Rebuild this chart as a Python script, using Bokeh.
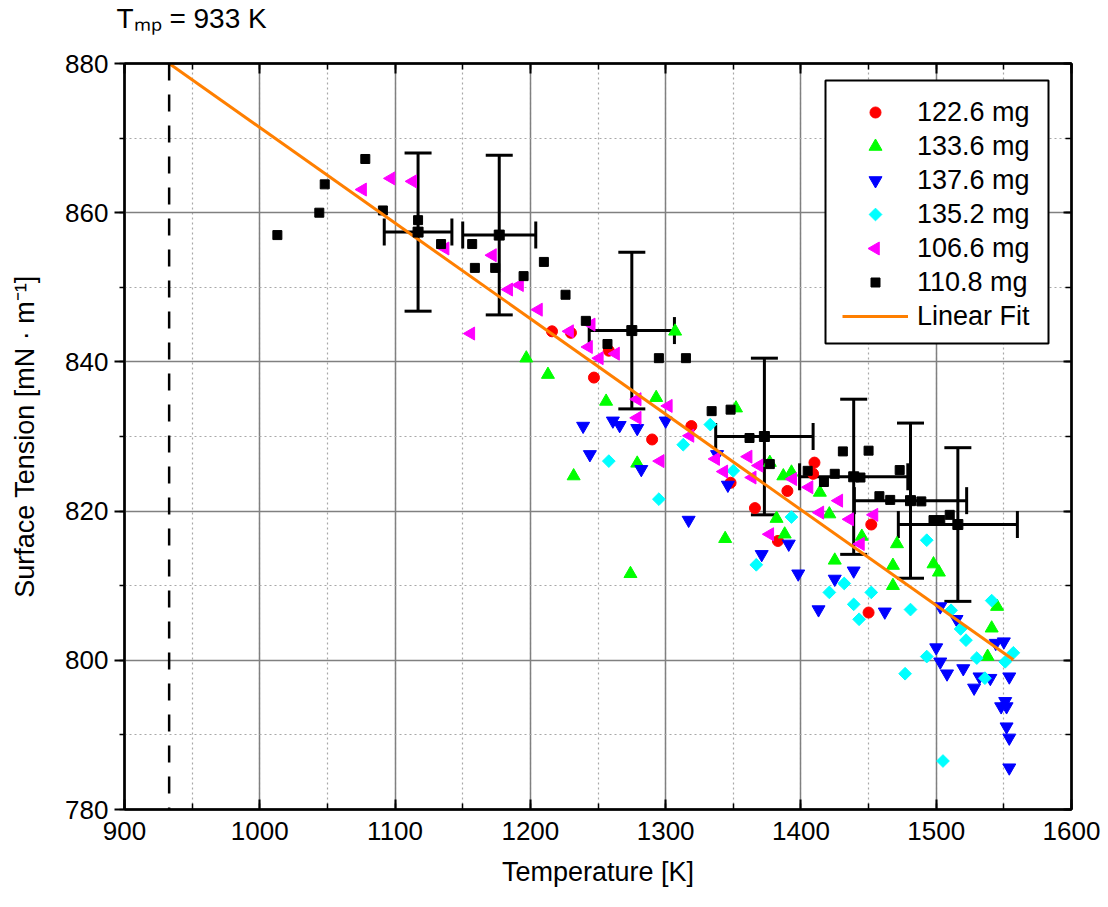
import math
from bokeh.plotting import figure
from bokeh.models import (ColumnDataSource, Whisker, TeeHead, Span, LinearAxis,
                          SingleIntervalTicker, Legend, LegendItem, Range1d)
from bokeh.embed import file_html
from bokeh.resources import INLINE

FONT = "Liberation Sans"

# ---------------- data ----------------
red_T = [1216, 1230, 1258, 1247, 1290, 1319, 1348, 1366, 1390, 1383, 1410, 1409, 1452, 1450]
red_sigma = [844.1, 843.9, 841.5, 837.9, 829.6, 831.4, 823.8, 820.4, 822.7, 816.0, 826.5, 825.0, 818.2, 806.4]

green_T = [1307, 1197, 1213, 1256, 1293, 1279, 1232, 1274, 1352, 1344, 1377, 1382, 1388, 1393, 1387,
           1414, 1421, 1425, 1445, 1471, 1468, 1498, 1502, 1468, 1545, 1541, 1538]
green_sigma = [844.1, 840.5, 838.3, 834.7, 835.2, 826.4, 824.7, 811.6, 833.8, 816.3, 826.5, 819.0, 816.9, 825.2, 824.7,
               822.5, 819.6, 813.4, 816.6, 815.6, 812.7, 812.9, 811.8, 810.0, 807.2, 804.3, 800.5]

blue_T = [1239, 1261, 1266, 1279, 1300, 1244, 1282, 1317, 1338, 1346, 1371, 1391, 1398, 1425, 1439,
          1413, 1462, 1503, 1515, 1544, 1550, 1500, 1503, 1508, 1520, 1532, 1540, 1528, 1554, 1548,
          1552, 1551, 1552, 1554, 1554]
blue_sigma = [831.4, 832.1, 831.5, 831.1, 832.1, 827.6, 825.6, 818.8, 827.6, 823.5, 814.2, 815.6, 811.6, 810.9, 812.0,
              806.8, 806.5, 807.2, 805.5, 802.3, 802.5, 801.7, 799.8, 798.2, 798.9, 797.8, 797.6, 796.3, 797.8, 793.8,
              793.8, 794.5, 791.1, 789.6, 785.6]

cyan_T = [1333, 1313, 1258, 1295, 1350, 1393, 1367, 1432, 1421, 1452, 1439, 1443, 1481, 1493, 1541,
          1511, 1518, 1522, 1557, 1551, 1530, 1493, 1477, 1536, 1505]
cyan_sigma = [831.6, 828.9, 826.7, 821.6, 825.4, 819.2, 812.8, 810.3, 809.1, 809.1, 807.5, 805.5, 806.8, 816.1, 808.0,
              806.7, 804.2, 802.7, 801.0, 799.8, 800.3, 800.5, 798.2, 797.6, 786.5]

magenta_T = [1076, 1097, 1113, 1137, 1172, 1192, 1184, 1206, 1156, 1229, 1245, 1243, 1251, 1263, 1279, 1302,
             1279, 1318, 1337, 1296, 1361, 1369, 1343, 1364, 1377, 1394, 1406, 1428, 1414, 1436, 1454, 1444]
magenta_sigma = [863.1, 864.6, 864.2, 855.2, 854.3, 850.3, 849.7, 847.0, 843.8, 844.1, 845.0, 842.0, 840.5, 841.1, 835.0, 834.1,
                 832.5, 830.1, 827.0, 826.7, 827.3, 826.1, 825.3, 824.5, 816.9, 824.3, 823.2, 821.4, 819.8, 818.9, 819.5, 815.6]

black_T = [1013, 1044, 1048, 1078, 1091, 1117, 1134, 1157, 1159, 1174, 1195, 1210, 1226, 1241, 1257, 1295,
           1315, 1334, 1348, 1362, 1377, 1405, 1417, 1425, 1431, 1444, 1450, 1473, 1458, 1466, 1489, 1498, 1503, 1510]
black_sigma = [857.0, 860.0, 863.8, 867.2, 860.3, 859.0, 855.8, 855.8, 852.6, 852.6, 851.5, 853.4, 849.0, 845.5, 842.4, 840.5,
               840.5, 833.4, 833.6, 829.8, 826.3, 825.4, 823.9, 825.0, 828.0, 824.5, 828.1, 825.5, 822.0, 821.5, 821.3, 818.8, 818.8, 819.5]

# averaged values with error bars
eb_T = [1117, 1177, 1275, 1373, 1439, 1481, 1516]
eb_sigma = [857.4, 857.0, 844.2, 830.0, 824.6, 821.4, 818.2]
eb_T_err = [25, 27, 31.5, 36, 40, 41.5, 44]
eb_sigma_err = [10.6, 10.7, 10.5, 10.5, 10.4, 10.4, 10.3]

# linear fit  sigma = intercept + slope * T
fit_slope = -0.1281
fit_intercept = 999.52
fit_T_range = [933, 1557]

T_mp = 933

series_labels = ["122.6 mg", "133.6 mg", "137.6 mg", "135.2 mg", "106.6 mg", "110.8 mg"]
fit_label = "Linear Fit"

x_ticks_interval = 100
y_ticks_interval = 20

# ---------------- layout constants (pixels) ----------------
W, H = 1108, 907
FRAME_LEFT, FRAME_RIGHT = 124, 1071
FRAME_TOP, FRAME_BOTTOM = 63, 809
X0, X1, Y0, Y1 = 900, 1600, 780, 880
TITLE_LIFT = 30

def px_to_x(px):
    return X0 + (px - FRAME_LEFT) * (X1 - X0) / (FRAME_RIGHT - FRAME_LEFT)

def py_to_y(py):
    return Y1 - (py - FRAME_TOP) * (Y1 - Y0) / (FRAME_BOTTOM - FRAME_TOP)

# ---------------- figure ----------------
p = figure(width=W, height=H, x_range=Range1d(X0, X1), y_range=Range1d(Y0, Y1),
           output_backend="svg", toolbar_location=None,
           min_border_left=FRAME_LEFT, min_border_right=W - FRAME_RIGHT,
           min_border_top=FRAME_TOP, min_border_bottom=H - FRAME_BOTTOM,
           x_axis_label="Temperature [K]", y_axis_label="Surface Tension [mN \u00b7 m\u207b\u00b9]")
p.background_fill_color = "white"
p.border_fill_color = "white"
p.outline_line_color = "black"
p.outline_line_width = 2

# melting point annotation as title
p.title.text = "T\u2098\u209a = %d K" % T_mp
p.title.text_font = FONT
p.title.text_font_size = "28px"
p.title.text_font_style = "normal"
p.title.text_color = "black"
p.title.align = "left"
p.title.offset = -8
p.title.standoff = 0

xt = SingleIntervalTicker(interval=x_ticks_interval, num_minor_ticks=2)
yt = SingleIntervalTicker(interval=y_ticks_interval, num_minor_ticks=2)
p.xaxis.ticker = xt
p.yaxis.ticker = yt
p.xgrid.ticker = xt
p.ygrid.ticker = yt

for g in (p.xgrid, p.ygrid):
    g.grid_line_color = "#808080"
    g.grid_line_width = 1.5
    g.minor_grid_line_color = "#a8a8a8"
    g.minor_grid_line_width = 1.2
    g.minor_grid_line_dash = "2 3"

for ax in (p.xaxis[0], p.yaxis[0]):
    ax.axis_line_width = 2.5
    ax.axis_line_color = "black"
    ax.major_tick_line_width = 2
    ax.minor_tick_line_width = 1.5
    ax.major_label_text_font = FONT
    ax.major_label_text_font_size = "26px"
    ax.major_label_text_color = "black"
    ax.axis_label_text_font = FONT
    ax.axis_label_text_font_size = "27px"
    ax.axis_label_text_font_style = "normal"
    ax.axis_label_text_color = "black"

xa = p.xaxis[0]
xa.major_tick_in = 10
xa.major_tick_out = 0
xa.minor_tick_in = 6
xa.minor_tick_out = 0
xa.major_label_standoff = 12
xa.axis_label_standoff = 14

ya = p.yaxis[0]
ya.major_tick_in = 0
ya.major_tick_out = 10
ya.minor_tick_in = 0
ya.minor_tick_out = 5
ya.major_label_standoff = 6
ya.axis_label_standoff = 22

top = LinearAxis(ticker=xt, major_label_text_font_size="0px", major_label_text_color=None,
                 major_tick_in=10, major_tick_out=0,
                 minor_tick_in=6, minor_tick_out=0, axis_line_width=2.5, major_tick_line_width=2,
                 minor_tick_line_width=1.5, major_label_standoff=0)
# invisible spacer between the top axis and the title
spacer = LinearAxis(ticker=xt, major_label_text_font_size="0px", major_label_text_color=None,
                    axis_line_color=None, major_tick_line_color=None, minor_tick_line_color=None,
                    major_tick_in=0, major_tick_out=TITLE_LIFT, minor_tick_in=0, minor_tick_out=0,
                    major_label_standoff=0)
right = LinearAxis(ticker=yt, major_label_text_font_size="0px", major_label_text_color=None,
                   major_tick_in=8, major_tick_out=0,
                   minor_tick_in=6, minor_tick_out=0, axis_line_width=2.5, major_tick_line_width=2,
                   minor_tick_line_width=1.5, major_label_standoff=0)
p.add_layout(top, "above")
p.add_layout(spacer, "above")
p.add_layout(right, "right")

# melting point line
p.add_layout(Span(location=T_mp, dimension="height", line_color="black", line_width=2.5,
                  line_dash="17 14"))

# ---------------- legend box (drawn first so it sits below the data) ----------------
LEG_LEFT, LEG_RIGHT, LEG_TOP, LEG_BOTTOM = 825, 1048, 80, 343
ROW_H, GLYPH_W = 34, 66
GLYPH_LEFT = 842
ROWS_BOTTOM = 333
p.quad(left=[px_to_x(LEG_LEFT)], right=[px_to_x(LEG_RIGHT)],
       top=[py_to_y(LEG_TOP)], bottom=[py_to_y(LEG_BOTTOM)],
       fill_color="white", line_color="black", line_width=2)

# data points
styles = [
    dict(marker="circle", size=11, angle=0, color="#ff0000"),
    dict(marker="triangle", size=13, angle=0, color="#00ff00"),
    dict(marker="inverted_triangle", size=13, angle=0, color="#0000ff"),
    dict(marker="square", size=9, angle=math.pi / 4, color="#00ffff"),
    dict(marker="triangle", size=13, angle=math.pi / 2, color="#ff00ff"),
    dict(marker="square", size=9, angle=0, color="#000000"),
]
series = [(red_T, red_sigma), (green_T, green_sigma), (blue_T, blue_sigma),
          (cyan_T, cyan_sigma), (magenta_T, magenta_sigma), (black_T, black_sigma)]
for (xs, ys), st in zip(series, styles):
    p.scatter(xs, ys, **st)

fit_sigma = [fit_intercept + fit_slope * t for t in fit_T_range]
r_fit = p.line(fit_T_range, fit_sigma, line_color="#ff7f00", line_width=3)

# error bars
eb_src = ColumnDataSource(dict(
    T=eb_T, s=eb_sigma,
    slo=[s - e for s, e in zip(eb_sigma, eb_sigma_err)],
    shi=[s + e for s, e in zip(eb_sigma, eb_sigma_err)],
    tlo=[t - e for t, e in zip(eb_T, eb_T_err)],
    thi=[t + e for t, e in zip(eb_T, eb_T_err)],
))
def head_tee():
    return TeeHead(size=27, line_width=3, line_color="black")
p.add_layout(Whisker(source=eb_src, base="T", lower="slo", upper="shi", dimension="height",
                     line_width=3, line_color="black", upper_head=head_tee(), lower_head=head_tee()))
p.add_layout(Whisker(source=eb_src, base="s", lower="tlo", upper="thi", dimension="width",
                     line_width=3, line_color="black", upper_head=head_tee(), lower_head=head_tee()))
p.scatter("T", "s", source=eb_src, marker="square", size=10, color="black")

# ---------------- legend texts ----------------
items = []
for lab, st in zip(series_labels, styles):
    proxy = p.scatter([], [], marker=st["marker"], fill_alpha=0, line_alpha=0)
    items.append(LegendItem(label=lab, renderers=[proxy]))
items.append(LegendItem(label=fit_label, renderers=[r_fit]))
n_rows = len(items)

legend = Legend(items=items, location=(GLYPH_LEFT - FRAME_LEFT, FRAME_BOTTOM - ROWS_BOTTOM))
legend.label_text_font = FONT
legend.label_text_font_size = "27px"
legend.label_text_color = "black"
legend.glyph_width = GLYPH_W
legend.glyph_height = ROW_H
legend.label_height = ROW_H
legend.label_standoff = 9
legend.spacing = 0
legend.padding = 0
legend.margin = 0
legend.border_line_color = None
legend.background_fill_alpha = 0
p.add_layout(legend)

# legend symbols
glyph_cx = GLYPH_LEFT + GLYPH_W / 2
for i, st in enumerate(styles):
    cy = ROWS_BOTTOM - (n_rows - i - 0.5) * ROW_H
    p.scatter([px_to_x(glyph_cx)], [py_to_y(cy)], **st)

open("out.html", "w").write(file_html(p, INLINE))
